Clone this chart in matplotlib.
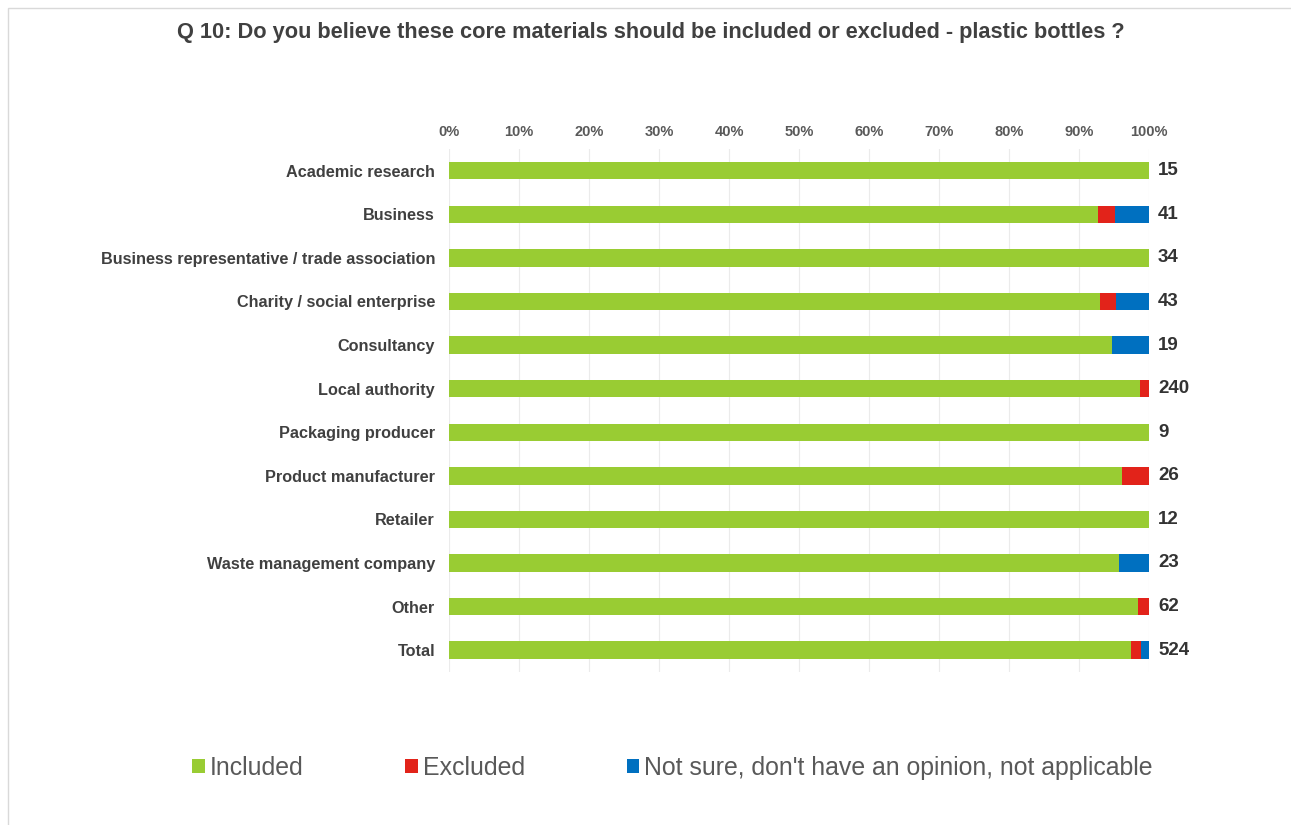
import numpy as np
import matplotlib
matplotlib.use("Agg")
import matplotlib.pyplot as plt
from matplotlib.patches import Rectangle

plt.rcParams['font.family'] = ['Liberation Sans', 'DejaVu Sans']

categories = ['Academic research', 'Business', 'Business representative / trade association',
              'Charity / social enterprise', 'Consultancy', 'Local authority',
              'Packaging producer', 'Product manufacturer', 'Retailer',
              'Waste management company', 'Other', 'Total']
counts = [15, 41, 34, 43, 19, 240, 9, 26, 12, 23, 62, 524]
included = [100.0, 92.7, 100.0, 93.0, 94.7, 98.75, 100.0, 96.2, 100.0, 95.7, 98.4, 97.5]
excluded = [0.0, 2.4, 0.0, 2.3, 0.0, 1.25, 0.0, 3.8, 0.0, 0.0, 1.6, 1.3]
not_sure = [0.0, 4.9, 0.0, 4.7, 5.3, 0.0, 0.0, 0.0, 0.0, 4.3, 0.0, 1.2]

series = [('Included', included, '#99CC33'),
          ('Excluded', excluded, '#E2231A'),
          ("Not sure, don't have an opinion, not applicable", not_sure, '#0070C0')]

fig = plt.figure(figsize=(12.91, 8.25), dpi=100)
ax = fig.add_axes([0.3478, 0.1855, 0.5422, 0.634])

y = np.arange(len(categories))
left = np.zeros(len(categories))
for name, vals, color in series:
    vals = np.array(vals)
    ax.barh(y, vals, left=left, height=0.4, color=color, label=name, zorder=3)
    left += vals

ax.set_xlim(0, 100)
ax.set_ylim(len(categories) - 0.5, -0.5)
ax.set_xticks(np.arange(0, 101, 10))
ax.set_xticklabels([f'{v}%' for v in range(0, 101, 10)])
ax.xaxis.tick_top()
ax.tick_params(axis='x', length=0, pad=7, labelsize=10.5, labelcolor='#595959')
ax.tick_params(axis='y', length=0, pad=10, labelsize=11.7, labelcolor='#404040')
ax.set_yticks(y)
ax.set_yticklabels(categories)
for lbl in ax.get_xticklabels() + ax.get_yticklabels():
    lbl.set_fontweight('bold')
ax.grid(axis='x', color='#EBEBEB', linewidth=0.8, zorder=0)
for s in ax.spines.values():
    s.set_visible(False)

for yi, n in zip(y, counts):
    ax.text(101.3, yi, str(n), va='center', ha='left', fontsize=13.5,
            fontweight='bold', color='#333333')

fig.text(0.504, 0.961, 'Q 10: Do you believe these core materials should be included or excluded - plastic bottles ?',
         ha='center', va='center', fontsize=15.7, fontweight='bold', color='#404040')

handles, labels = ax.get_legend_handles_labels()
fig.legend(handles, labels, loc='center', bbox_to_anchor=(0.521, 0.069), ncol=3,
           frameon=False, fontsize=17.9, labelcolor='#595959', handlelength=0.5,
           handleheight=0.5, handletextpad=0.2, columnspacing=4.1)

# thin border like the source screenshot
fig.patches.append(Rectangle((0.006, -0.01), 1.1, 1.0, transform=fig.transFigure,
                             fill=False, edgecolor='#D9D9D9', linewidth=1))

fig.savefig('out.png', dpi=100)
